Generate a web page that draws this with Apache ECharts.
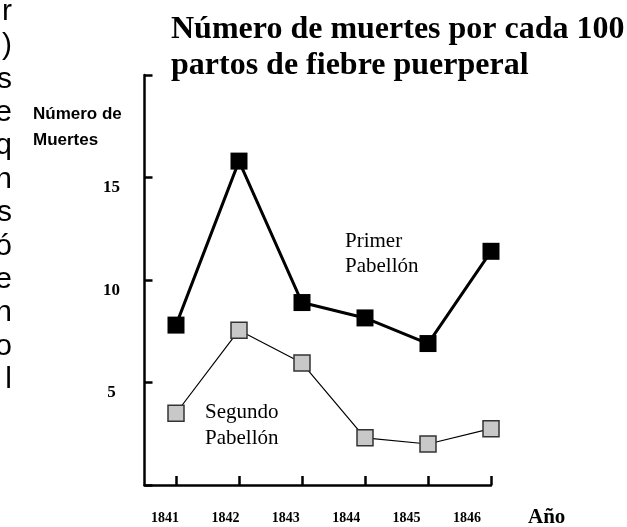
<!DOCTYPE html>
<html>
<head>
<meta charset="utf-8">
<script src="https://cdn.jsdelivr.net/npm/echarts@6/dist/echarts.min.js"></script>
<style>
  html, body { margin: 0; padding: 0; background: #fff; }
  #chart { width: 627px; height: 527px; }
</style>
</head>
<body>
<div id="chart"></div>
<script>
// years and deaths per 100 births
const years = [1841, 1842, 1843, 1844, 1845, 1846];
const primerPabellon = [7.8, 15.8, 8.9, 8.15, 6.9, 11.4];
const segundoPabellon = [3.5, 7.55, 5.95, 2.3, 2.0, 2.75];
const yTicks = [5, 10, 15];

// cut-off ends of a paragraph on the left edge
const sideText = ['r', ')', 's', 'e', 'q', 'n', 's', 'ó', 'e', 'n', 'o', 'l'];

const serif = '"Liberation Serif", "Times New Roman", serif';
const sans = '"Liberation Sans", Arial, sans-serif';

const pairs = (vals) => years.map((y, i) => [y, vals[i]]);

const graphics = [
  {
    type: 'text', left: 171, top: 12,
    style: {
      text: 'Número de muertes por cada 100\npartos de fiebre puerperal',
      font: 'bold 32px ' + serif, lineHeight: 36, fill: '#000'
    }
  },
  {
    type: 'text', left: 33, top: 101,
    style: { text: 'Número de\nMuertes', font: 'bold 17px ' + sans, lineHeight: 26, fill: '#000' }
  },
  {
    type: 'text', x: 528, y: 518,
    style: { text: 'Año', font: 'bold 21px ' + serif, verticalAlign: 'middle', fill: '#000' }
  },
  {
    type: 'text', left: 345, top: 229,
    style: { text: 'Primer\nPabellón', font: '21px ' + serif, lineHeight: 25, fill: '#000' }
  },
  {
    type: 'text', left: 205, top: 399,
    style: { text: 'Segundo\nPabellón', font: '21px ' + serif, lineHeight: 26, fill: '#000' }
  }
];

sideText.forEach((ch, i) => {
  graphics.push({
    type: 'text', x: 12, y: (i === 0 ? 12 : 46 + (i - 1) * 33.4),
    style: { text: ch, fontFamily: sans, fontSize: 30, align: 'right', verticalAlign: 'middle', fill: '#000' }
  });
});

const chart = echarts.init(document.getElementById('chart'));

chart.setOption({
  backgroundColor: '#fff',
  animation: false,
  grid: { left: 144.5, right: 136, top: 75, bottom: 42 },
  xAxis: [
    {
      type: 'value',
      min: 1840.5,
      max: 1846,
      splitLine: { show: false },
      axisLine: { show: true, lineStyle: { color: '#000', width: 2.5 } },
      axisTick: {
        show: true, inside: true, length: 9,
        customValues: years,
        lineStyle: { color: '#000', width: 2.5 }
      },
      axisLabel: { show: false }
    },
    {
      // label row, slightly compressed relative to the ticks
      type: 'value',
      position: 'bottom',
      min: 1840.661,
      max: 1846.397,
      splitLine: { show: false },
      axisLine: { show: false },
      axisTick: { show: false },
      axisLabel: {
        show: true,
        customValues: years,
        margin: 26,
        color: '#000',
        fontFamily: serif,
        fontWeight: 'bold',
        fontSize: 14,
        formatter: (v) => String(v)
      }
    }
  ],
  yAxis: {
    type: 'value',
    min: 0,
    max: 20,
    interval: 5,
    splitLine: { show: false },
    axisLine: { show: true, lineStyle: { color: '#000', width: 2.5 } },
    axisTick: { show: true, inside: true, length: 8, lineStyle: { color: '#000', width: 2.5 } },
    axisLabel: {
      margin: 33,
      align: 'center',
      verticalAlign: 'top',
      padding: [2, 0, 0, 0],
      color: '#000',
      fontFamily: serif,
      fontWeight: 'bold',
      fontSize: 17,
      formatter: (v) => (yTicks.indexOf(v) >= 0 ? String(v) : '')
    }
  },
  series: [
    {
      name: 'Segundo Pabellón',
      type: 'line',
      xAxisIndex: 0,
      data: pairs(segundoPabellon),
      symbol: 'rect',
      symbolSize: 16,
      lineStyle: { color: '#000', width: 1.2 },
      itemStyle: { color: '#c8c8c8', borderColor: '#333', borderWidth: 1.5 },
      z: 2
    },
    {
      name: 'Primer Pabellón',
      type: 'line',
      xAxisIndex: 0,
      data: pairs(primerPabellon),
      symbol: 'rect',
      symbolSize: 17,
      lineStyle: { color: '#000', width: 3 },
      itemStyle: { color: '#000', borderColor: '#000', borderWidth: 0 },
      z: 3
    }
  ],
  graphic: graphics
});
</script>
</body>
</html>
